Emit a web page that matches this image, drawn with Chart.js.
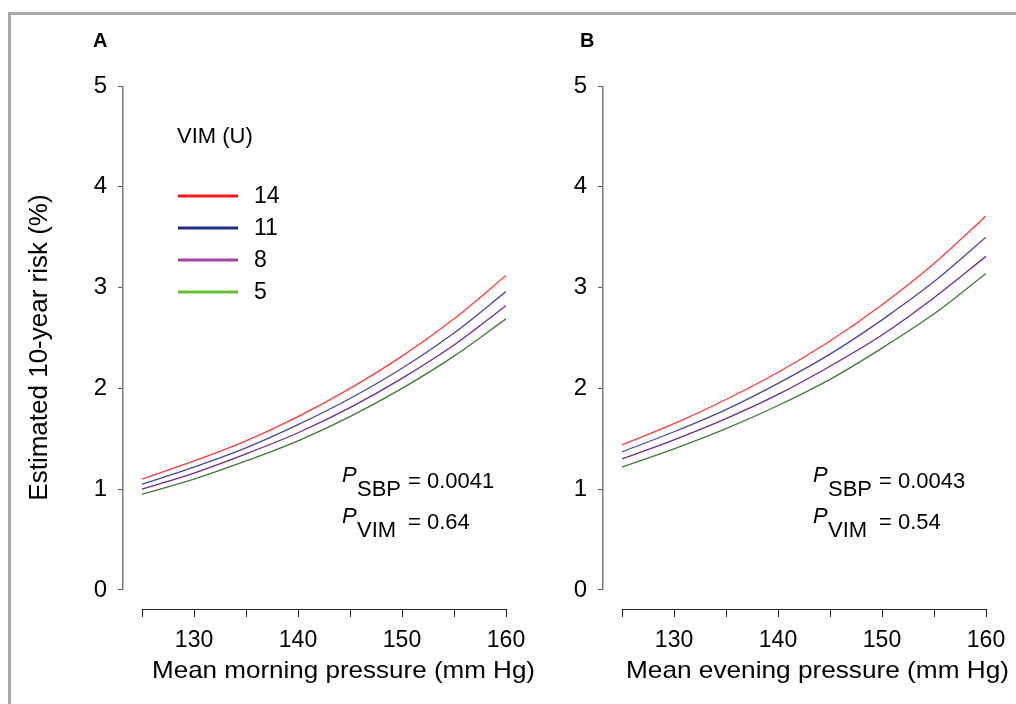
<!DOCTYPE html>
<html>
<head>
<meta charset="utf-8">
<script src="https://cdn.jsdelivr.net/npm/chart.js@4.4.0/dist/chart.umd.min.js"></script>
<style>
  body { margin: 0; background: #fff; width: 1016px; height: 704px; overflow: hidden; position: relative; }
  .frame { position: absolute; left: 8px; top: 12px; width: 1100px; height: 800px;
           border-left: 3px solid #aaa; border-top: 3px solid #aaa; }
  canvas { position: absolute; top: 0; }
  #chartA { left: 0; }
  #chartB { left: 480px; }
</style>
</head>
<body>
<div class="frame"></div>
<canvas id="chartA" width="560" height="704"></canvas>
<canvas id="chartB" width="536" height="704"></canvas>
<script>
// x values (mm Hg) and VIM levels
const pressures = [125, 130, 135, 140, 145, 150, 155, 160];
const vimLevels = ['14', '11', '8', '5'];

// panel A, morning pressure, estimated 10-year risk (%)
const morning14 = [1.10, 1.28, 1.48, 1.72, 2.00, 2.32, 2.69, 3.12];
const morning11 = [1.05, 1.22, 1.41, 1.64, 1.90, 2.20, 2.55, 2.96];
const morning8  = [1.00, 1.16, 1.35, 1.56, 1.81, 2.10, 2.43, 2.82];
const morning5  = [0.95, 1.10, 1.28, 1.48, 1.72, 2.00, 2.32, 2.69];

// panel B, evening pressure
const evening14 = [1.44, 1.65, 1.89, 2.16, 2.47, 2.83, 3.24, 3.71];
const evening11 = [1.37, 1.57, 1.79, 2.05, 2.34, 2.68, 3.06, 3.50];
const evening8  = [1.30, 1.49, 1.70, 1.94, 2.22, 2.53, 2.90, 3.31];
const evening5  = [1.22, 1.40, 1.60, 1.83, 2.09, 2.40, 2.74, 3.14];

const xTicks = [125, 130, 135, 140, 145, 150, 155, 160];
const xLabels = [130, 140, 150, 160];
const yTicks = [0, 1, 2, 3, 4, 5];

const lineColors = ['#ff3b3b', '#4747a8', '#74288a', '#3f7a34'];
const keyColors = ['#ff1a1a', '#1f2f8f', '#a243a2', '#6cbf30'];

Chart.defaults.font.family = '"Liberation Sans", Arial, sans-serif';
Chart.defaults.color = '#000';

const panelDecor = {
  id: 'panelDecor',
  afterDraw(chart, args, o) {
    const ctx = chart.ctx, xs = chart.scales.x, ys = chart.scales.y, area = chart.chartArea;
    const fam = '"Liberation Sans", Arial, sans-serif';
    ctx.save();
    // detached axis lines
    ctx.strokeStyle = '#777';
    ctx.lineWidth = 1.5;
    ctx.beginPath();
    ctx.moveTo(area.left - 0.25, ys.getPixelForValue(yTicks[0]));
    ctx.lineTo(area.left - 0.25, ys.getPixelForValue(yTicks[yTicks.length - 1]));
    ctx.stroke();
    ctx.strokeStyle = '#222';
    ctx.lineWidth = 1;
    ctx.beginPath();
    ctx.moveTo(xs.getPixelForValue(xTicks[0]), area.bottom + 0.5);
    ctx.lineTo(xs.getPixelForValue(xTicks[xTicks.length - 1]), area.bottom + 0.5);
    ctx.stroke();

    ctx.fillStyle = '#000';
    ctx.textBaseline = 'alphabetic';
    ctx.textAlign = 'left';

    // panel letter
    ctx.font = 'bold 20px ' + fam;
    ctx.fillText(o.letter, o.letterX, 47);

    // x axis title, slightly widened like the original
    ctx.font = '24px ' + fam;
    const w = ctx.measureText(o.xTitle).width;
    ctx.save();
    ctx.translate(o.xTitleCenter, 678);
    ctx.scale(383 / w, 1);
    ctx.textAlign = 'center';
    ctx.fillText(o.xTitle, 0, 0);
    ctx.restore();

    // p values
    const px = o.pX;
    o.pLines.forEach((ln, i) => {
      const base = 482 + i * 41;
      ctx.font = 'italic 22px ' + fam;
      ctx.fillText('P', px, base);
      ctx.font = '22px ' + fam;
      ctx.fillText(ln.sub, px + 15, base + 14);
      ctx.fillText(ln.text, px + 66, base + 6);
    });

    // VIM key
    if (o.key) {
      ctx.font = '22px ' + fam;
      ctx.fillText('VIM (U)', 177, 143);
      ctx.font = '23px ' + fam;
      chart.data.datasets.forEach((ds, i) => {
        const y = 196 + i * 32;
        ctx.strokeStyle = keyColors[i];
        ctx.lineWidth = 3;
        ctx.beginPath();
        ctx.moveTo(178, y);
        ctx.lineTo(238, y);
        ctx.stroke();
        ctx.textBaseline = 'middle';
        ctx.fillText(ds.label, 254, y + 1);
        ctx.textBaseline = 'alphabetic';
      });
    }
    ctx.restore();
  }
};

function makeChart(id, series, padRight, decor, yTitle) {
  return new Chart(document.getElementById(id), {
    type: 'line',
    data: {
      datasets: vimLevels.map((v, i) => ({
        label: v,
        data: pressures.map((p, j) => ({ x: p, y: series[i][j] })),
        borderColor: lineColors[i],
        borderWidth: 1.3,
        pointRadius: 0,
        cubicInterpolationMode: 'monotone',
        fill: false
      }))
    },
    options: {
      responsive: false,
      animation: false,
      layout: { padding: { left: 10, top: 86, right: padRight, bottom: 0 } },
      plugins: {
        legend: { display: false },
        tooltip: { enabled: false },
        panelDecor: decor
      },
      scales: {
        x: {
          type: 'linear',
          min: 123.17,
          max: 160,
          afterBuildTicks: s => { s.ticks = xTicks.map(v => ({ value: v })); },
          afterFit: s => { s.height = 95; },
          border: { display: false },
          grid: { drawOnChartArea: false, drawTicks: true, tickLength: 8, tickColor: '#222', lineWidth: 1 },
          ticks: {
            autoSkip: false, maxRotation: 0, padding: 10, color: '#000', font: { size: 23 },
            callback: v => xLabels.includes(v) ? String(v) : ''
          }
        },
        y: {
          min: -0.1885,
          max: 5,
          afterBuildTicks: s => { s.ticks = yTicks.map(v => ({ value: v })); },
          afterFit: s => { s.width = 113; },
          border: { display: false },
          grid: { drawOnChartArea: false, drawTicks: true, tickLength: 5, tickColor: '#555', lineWidth: 1 },
          ticks: { padding: 11, color: '#000', font: { size: 24 } },
          title: {
            display: !!yTitle, text: yTitle || '', color: '#000',
            font: { size: 26 }, padding: { top: 14, bottom: 0 }
          }
        }
      }
    },
    plugins: [panelDecor]
  });
}

makeChart('chartA', [morning14, morning11, morning8, morning5], 54, {
  letter: 'A', letterX: 93,
  xTitle: 'Mean morning pressure (mm Hg)', xTitleCenter: 343.5,
  pX: 342,
  pLines: [{ sub: 'SBP', text: '= 0.0041' }, { sub: 'VIM', text: '= 0.64' }],
  key: true
}, 'Estimated 10-year risk (%)');

makeChart('chartB', [evening14, evening11, evening8, evening5], 30, {
  letter: 'B', letterX: 580 - 480,
  xTitle: 'Mean evening pressure (mm Hg)', xTitleCenter: 337.5,
  pX: 333,
  pLines: [{ sub: 'SBP', text: '= 0.0043' }, { sub: 'VIM', text: '= 0.54' }],
  key: false
}, null);
</script>
</body>
</html>
